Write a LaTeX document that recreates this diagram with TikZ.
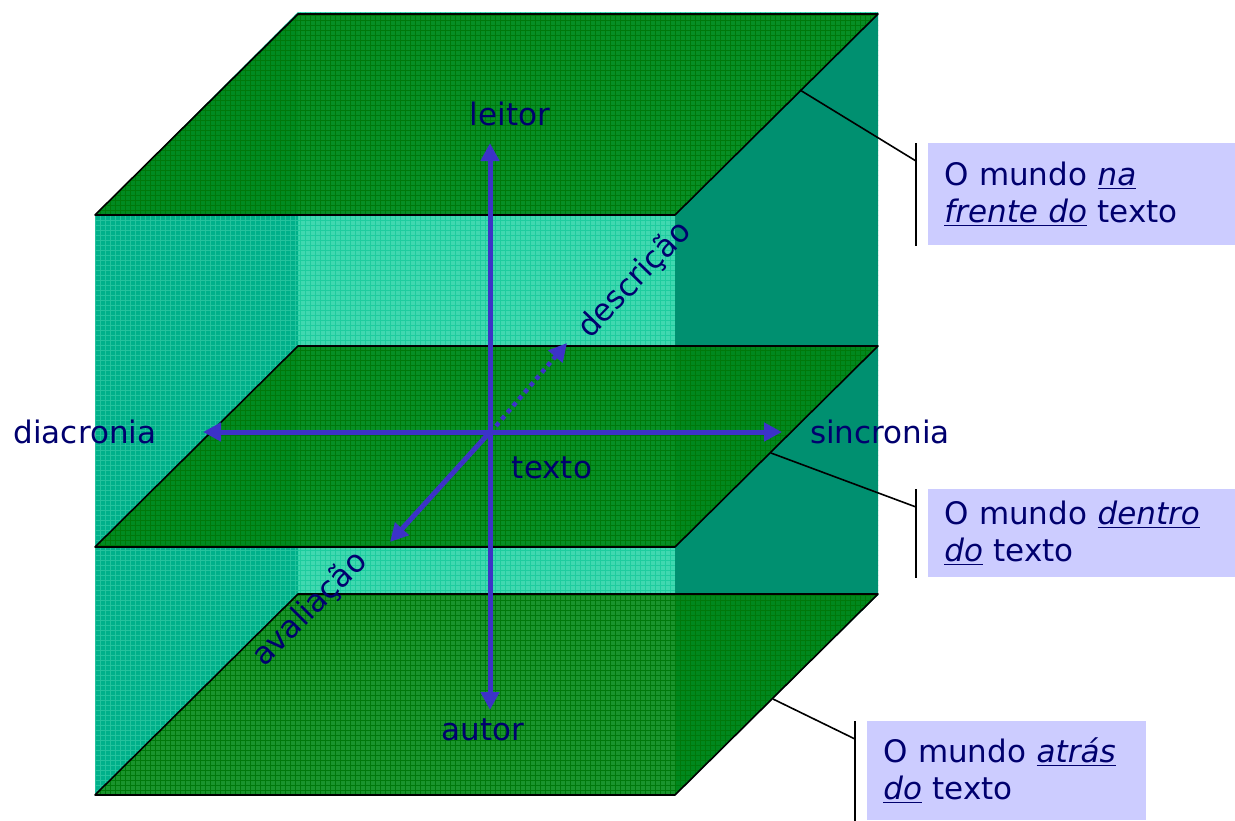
\documentclass[tikz,border=0pt]{standalone}
\usepackage{fontspec}
\setmainfont{DejaVu Sans}
\usetikzlibrary{arrows.meta,calc}
\definecolor{planegreen}{RGB}{0,136,22}
\definecolor{gridgreen}{RGB}{0,120,10}
\definecolor{leftwall}{RGB}{0,176,138}
\definecolor{leftgrid}{RGB}{36,194,156}
\definecolor{backwall}{RGB}{64,216,176}
\definecolor{backgrid}{RGB}{30,204,158}
\definecolor{rightwall}{RGB}{0,144,112}
\definecolor{axisblue}{RGB}{60,50,200}
\definecolor{labelnavy}{RGB}{0,0,110}
\definecolor{boxblue}{RGB}{204,204,255}
\tikzset{
  plane/.style={fill=planegreen,fill opacity=0.9},
  planegrid/.style={gridgreen,line width=0.4pt,step=2.5pt},
  wallgrid/.style={line width=0.4pt,step=2.5pt},
  planeedge/.style={black,line width=0.8pt,line join=round},
  axis/.style={axisblue,line width=2.5pt,-{Triangle[length=9pt,width=9pt]}},
  axislabel/.style={text=labelnavy,font=\fontsize{15.5}{18.5}\selectfont,inner sep=0pt},
  worldbox/.style={fill=boxblue,text=labelnavy,font=\fontsize{15.5}{18.5}\selectfont,
    align=left,anchor=north west,inner xsep=8pt,inner ysep=0pt},
  leader/.style={black,line width=0.8pt},
  bracket/.style={black,line width=1pt}
}
\begin{document}
\begin{tikzpicture}[x=0.5pt,y=-0.5pt]
            \useasboundingbox (0,0) rectangle (1235,820);
            \begin{scope}
              \clip (298,12) rectangle (878,595);
              \fill [backwall] (298,12) rectangle (878,595);
              \draw [wallgrid,backgrid] (0,820) grid (1235,0);
            \end{scope}
            \fill [rightwall] (675,215)--(878,12)--(878,595)--(675,795)--cycle;
            \begin{scope}
              \clip (95,215)--(298,12)--(298,595)--(95,795)--cycle;
              \fill [leftwall] (0,0) rectangle (1235,820);
              \draw [wallgrid,leftgrid] (0,820) grid (1235,0);
            \end{scope}
            \foreach \py in {215,547,795}{
              \begin{scope}
                \clip (95,\py)--(675,\py)--(878,\py-201)--(298,\py-201)--cycle;
                \fill [plane] (0,0) rectangle (1235,820);
                \draw [planegrid] (0,820) grid (1235,0);
              \end{scope}
              \draw [planeedge] (95,\py)--(675,\py)--(878,\py-201)--(298,\py-201)--cycle;
            }
            \coordinate (origin) at (490,432);
            \node [axislabel,anchor=base] (leitor) at (510,125) {leitor};
            \node [axislabel,anchor=base] (autor) at (483,740) {autor};
            \node [axislabel,anchor=base] (diacronia) at (85,443) {diacronia};
            \node [axislabel,anchor=base] (sincronia) at (880,443) {sincronia};
            \node [axislabel,anchor=base] (texto) at (552,478) {texto};
            \node [axislabel,rotate=46] (descricao) at (635,280) {descrição};
            \node [axislabel,rotate=45] (avaliacao) at (310,609) {avaliação};
            \coordinate (up) at (490,143);
            \coordinate (down) at (490,710);
            \coordinate (west) at (203,432);
            \coordinate (east) at (782,432);
            \coordinate (front) at (390,542);
            \coordinate (back) at (567,343);
            \draw [axis] (origin) -- (up);
            \draw [axis] (origin) -- (down);
            \draw [axis] (origin) -- (west);
            \draw [axis] (origin) -- (east);
            \draw [axis] (origin) -- (front);
            \draw [axis,line width=2.2pt,dash pattern=on 2.2pt off 2.2pt] ($(origin)+(6,-6)$) -- (back);
            \node [worldbox,text width=137.5pt,minimum height=51pt] (frente) at (928,143)
              {O mundo \underline{\textit{na}}\\ \underline{\textit{frente do}} texto};
            \node [worldbox,text width=137.5pt,minimum height=44pt] (dentro) at (928,489)
              {O mundo \underline{\textit{dentro}}\\ \underline{\textit{do}} texto};
            \node [worldbox,text width=123.5pt,minimum height=49.5pt] (atras) at (867,721)
              {O mundo \underline{\textit{atrás}}\\ \underline{\textit{do}} texto};
            \coordinate (topedge) at (800,90);
            \coordinate (midedge) at (771,453);
            \coordinate (botedge) at (773,699);
            \foreach \b/\e in {frente/topedge,dentro/midedge,atras/botedge}{
              \draw [bracket] ($(\b.north west)+(-12,0)$) -- ($(\b.south west)+(-12,0)$);
              \draw [leader] (\e) -- ($(\b.north west)+(-12,18)$);
            }
        \end{tikzpicture}
\end{document}
